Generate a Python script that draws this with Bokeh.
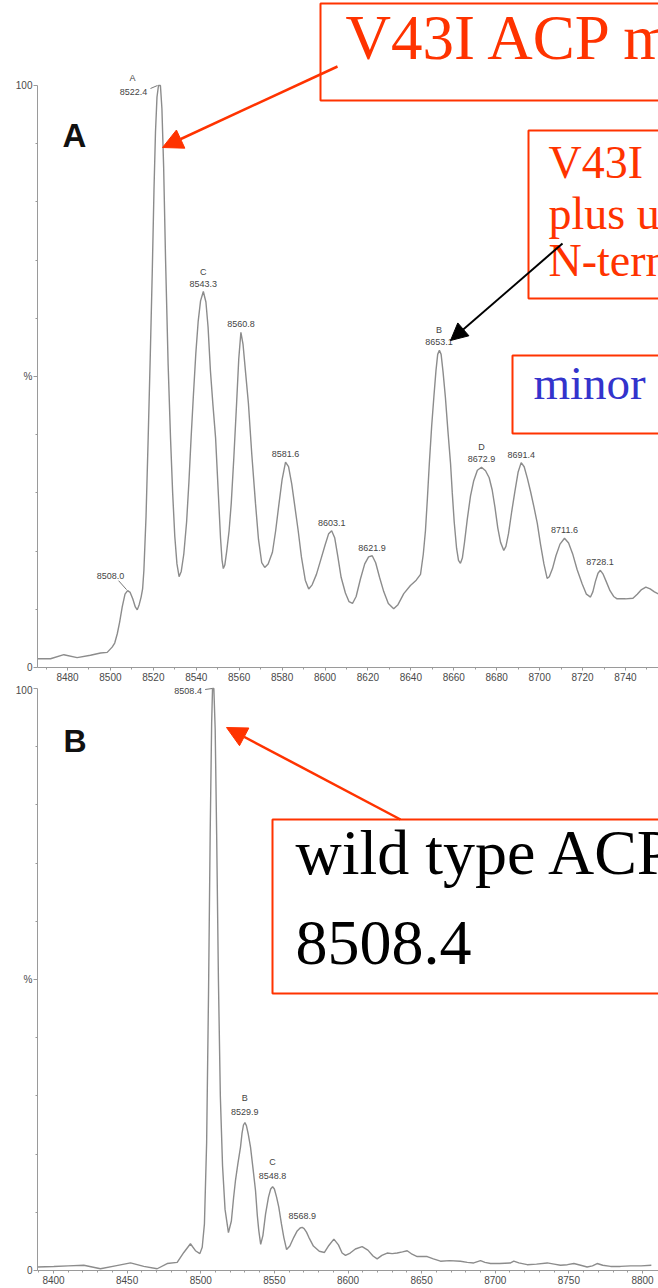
from bokeh.plotting import figure
from bokeh.layouts import column
from bokeh.models import (ColumnDataSource, FixedTicker, BoxAnnotation, Label,
                          Arrow, NormalHead, Range1d)
from bokeh.core.properties import value
from bokeh.embed import file_html
from bokeh.resources import INLINE

# ---------------- data ----------------
# Panel A : V43I ACP spectrum (m/z, % intensity)
a_mz = [8466.0, 8472.1, 8478.3, 8484.5, 8490.7, 8495.4, 8498.5, 8500.8, 8502.0, 8503.2,
        8504.3, 8505.5, 8506.8, 8508.0, 8509.2, 8510.4, 8511.6, 8512.5, 8513.4, 8514.3,
        8515.0, 8515.6, 8516.6, 8517.6, 8518.6, 8519.5, 8520.3, 8521.0, 8521.7, 8522.4,
        8523.3, 8524.0, 8524.8, 8525.7, 8526.9, 8528.0, 8529.0, 8530.0, 8531.0, 8532.0,
        8533.0, 8534.2, 8535.5, 8536.6, 8537.6, 8538.7, 8539.8, 8540.9, 8542.0, 8543.3,
        8544.5, 8545.5, 8546.6, 8547.8, 8549.0, 8550.2, 8551.3, 8552.0, 8552.6, 8553.3,
        8554.2, 8555.3, 8556.3, 8557.5, 8558.8, 8559.8, 8560.8, 8561.8, 8562.9, 8564.3,
        8565.9, 8567.6, 8569.0, 8570.5, 8571.9, 8573.5, 8575.5, 8577.0, 8578.5, 8580.0,
        8581.6, 8583.0, 8584.5, 8586.0, 8587.5, 8589.0, 8590.8, 8592.4, 8594.0, 8596.0,
        8598.0, 8600.0, 8601.7, 8603.1, 8604.5, 8606.0, 8607.5, 8609.5, 8611.2, 8612.8,
        8614.5, 8616.5, 8618.5, 8620.3, 8622.0, 8623.6, 8625.4, 8627.4, 8629.5, 8632.0,
        8634.0, 8636.7, 8639.8, 8642.5, 8644.5, 8645.8, 8646.8, 8647.7, 8648.6, 8649.7,
        8650.7, 8651.7, 8652.5, 8653.3, 8654.1, 8655.0, 8656.1, 8657.3, 8658.5, 8659.3,
        8660.2, 8661.3, 8662.2, 8663.1, 8664.0, 8665.0, 8666.3, 8667.8, 8669.3, 8671.0,
        8672.9, 8674.8, 8676.5, 8677.9, 8679.2, 8680.5, 8681.8, 8683.3, 8684.3, 8685.5,
        8687.0, 8688.5, 8690.0, 8691.4, 8692.8, 8694.3, 8695.8, 8697.4, 8698.9, 8700.4,
        8702.0, 8703.5, 8704.5, 8706.0, 8707.6, 8709.5, 8711.6, 8713.5, 8715.5, 8717.5,
        8719.8, 8721.8, 8723.7, 8724.8, 8726.0, 8727.2, 8728.3, 8729.5, 8731.0, 8732.8,
        8734.5, 8736.1, 8740.0, 8743.5, 8745.5, 8747.5, 8749.5, 8751.5, 8753.5, 8755.5]
a_int = [1.5, 1.5, 2.2, 1.7, 2.1, 2.5, 2.6, 3.5, 4.2, 5.8,
         7.8, 10.4, 12.6, 13.2, 12.9, 11.8, 10.4, 9.9, 10.8, 12.1,
         13.5, 16.7, 26.0, 39.5, 54.0, 68.0, 82.0, 92.0, 98.0, 100.0,
         100.0, 96.0, 86.0, 70.0, 52.0, 39.5, 30.0, 22.5, 17.8, 15.6,
         16.5, 19.5, 25.0, 32.0, 39.5, 47.0, 54.0, 59.5, 63.0, 64.6,
         62.8, 58.5, 51.0, 45.0, 39.5, 30.5, 22.3, 18.5, 17.0, 17.6,
         20.0, 23.5, 28.2, 36.0, 45.4, 53.0, 57.6, 55.5, 51.0, 45.4,
         36.5, 28.2, 22.0, 18.0, 17.2, 17.8, 19.8, 23.5, 28.0, 32.3,
         35.3, 34.5, 31.5, 27.5, 23.5, 19.0, 15.0, 13.5, 14.2, 16.0,
         18.5, 21.0, 23.0, 23.5, 22.3, 19.0, 15.5, 12.8, 11.3, 11.0,
         12.2, 15.2, 17.8, 19.0, 19.2, 18.0, 15.5, 13.0, 11.0, 10.1,
         10.8, 12.7, 14.1, 15.0, 16.0, 19.5, 23.5, 29.0, 35.0, 41.5,
         46.4, 51.0, 53.8, 54.5, 53.8, 50.8, 46.4, 40.5, 35.0, 30.0,
         25.0, 20.5, 18.4, 17.9, 18.8, 21.5, 25.5, 29.5, 32.1, 33.9,
         34.4, 33.8, 32.6, 30.5, 27.5, 24.0, 21.5, 20.1, 20.8, 23.0,
         26.8, 30.3, 33.6, 35.2, 34.5, 32.5, 30.2, 27.5, 24.8, 21.2,
         17.8, 15.3, 15.6, 17.0, 19.2, 21.2, 22.2, 21.4, 19.4, 16.8,
         14.4, 12.6, 12.1, 13.0, 14.8, 16.2, 16.7, 16.1, 14.8, 13.2,
         12.2, 11.8, 11.8, 11.9, 12.6, 13.4, 13.8, 13.5, 13.0, 12.6]
a_peak_mz = [8508.0, 8522.4, 8543.3, 8560.8, 8581.6, 8603.1, 8621.9, 8653.1, 8672.9,
             8691.4, 8711.6, 8728.1]
a_peak_int = [13.2, 100.0, 64.6, 57.6, 35.3, 23.5, 19.2, 54.5, 34.4, 35.2, 22.2, 16.7]
a_peak_text = ["8508.0", "8522.4", "8543.3", "8560.8", "8581.6", "8603.1", "8621.9",
               "8653.1", "8672.9", "8691.4", "8711.6", "8728.1"]
a_peak_letter = ["", "A", "C", "", "", "", "", "B", "D", "", "", ""]
a_xticks = [8480, 8500, 8520, 8540, 8560, 8580, 8600, 8620, 8640, 8660, 8680, 8700, 8720, 8740]

# Panel B : wild type ACP spectrum (m/z, % intensity)
b_mz = [8389.0, 8400.2, 8410.0, 8420.6, 8431.9, 8442.0, 8452.3, 8461.3, 8470.4, 8477.2,
        8484.0, 8488.5, 8493.0, 8496.4, 8499.4, 8501.0, 8502.5, 8504.0, 8505.3, 8506.4,
        8507.4, 8508.0, 8508.9, 8509.8, 8510.8, 8512.0, 8513.3, 8514.8, 8516.5, 8518.8,
        8520.8, 8522.3, 8523.6, 8525.3, 8527.0, 8528.0, 8529.0, 8530.0, 8531.0, 8532.2,
        8533.8, 8535.5, 8537.2, 8538.4, 8539.4, 8540.7, 8542.2, 8544.0, 8546.0, 8547.5,
        8548.8, 8550.0, 8551.5, 8553.0, 8554.8, 8556.4, 8558.3, 8560.5, 8563.2, 8565.5,
        8567.5, 8568.9, 8570.2, 8571.8, 8573.4, 8576.5, 8580.5, 8584.0, 8587.0, 8590.4,
        8593.5, 8596.0, 8598.3, 8601.5, 8605.0, 8609.6, 8613.5, 8617.0, 8619.8, 8623.0,
        8626.6, 8630.0, 8633.4, 8637.0, 8640.2, 8643.5, 8647.0, 8653.8, 8658.0, 8662.8,
        8669.0, 8676.4, 8681.0, 8685.4, 8690.0, 8693.0, 8696.8, 8703.0, 8710.4, 8712.6,
        8716.0, 8721.7, 8728.0, 8735.3, 8740.0, 8744.3, 8749.0, 8753.4, 8758.0, 8762.4,
        8766.0, 8769.2, 8773.0, 8778.3, 8785.0, 8792.0, 8799.0, 8806.0]
b_int = [0.6, 0.7, 0.8, 0.9, 0.3, 0.8, 1.3, 0.7, 0.3, 1.2,
         1.4, 3.1, 4.6, 3.4, 2.9, 4.0, 8.0, 22.0, 48.0, 75.0,
         94.0, 100.0, 100.0, 93.0, 75.0, 50.0, 30.0, 18.0, 10.5, 6.5,
         8.5, 12.5, 15.5, 18.5, 21.2, 23.5, 25.0, 25.4, 24.9, 23.5,
         21.2, 17.5, 13.7, 9.5, 6.9, 4.5, 6.0, 9.7, 12.6, 14.0,
         14.4, 14.0, 12.6, 10.9, 8.0, 5.7, 3.6, 4.2, 5.7, 6.8,
         7.3, 7.4, 7.2, 6.6, 5.7, 4.2, 3.3, 3.1, 4.3, 5.4,
         4.4, 3.0, 2.6, 3.0, 3.7, 4.1, 3.5, 2.5, 2.0, 2.6,
         3.0, 2.9, 3.0, 3.2, 3.4, 2.8, 2.4, 2.4, 2.0, 1.6,
         1.7, 1.6, 1.4, 1.3, 1.7, 1.4, 1.2, 1.2, 1.3, 1.6,
         1.3, 1.0, 1.1, 1.3, 1.1, 0.9, 1.0, 1.2, 0.9, 0.6,
         0.8, 1.2, 0.9, 0.7, 0.7, 0.8, 0.8, 0.9]
b_peak_mz = [8508.4, 8529.9, 8548.8, 8568.9]
b_peak_int = [100.0, 25.4, 14.4, 7.4]
b_peak_text = ["8508.4", "8529.9", "8548.8", "8568.9"]
b_peak_letter = ["", "B", "C", ""]
b_xticks = [8400, 8450, 8500, 8550, 8600, 8650, 8700, 8750, 8800]

y_ticks = [0, 50, 100]
y_tick_labels = ["0", "%", "100"]

title_a = "V43I ACP m"
note_a_lines = ["V43I", "plus u", "N-term"]
note_minor = "minor"
note_b_lines = ["wild type ACP", "8508.4"]

# ---------------- styling ----------------
RED = "#FF3300"
BLUE = "#3333CC"
SERIF = "Liberation Serif"
SANS = "Liberation Sans"
LINE_GRAY = "#8c8c8c"
AXIS_GRAY = "#9a9a9a"
W = 658
HA = 684
HB = 604

# picture pixel -> data helpers for each panel
def ax(X):
    return 8480 + (X - 67) / 2.146

def ay(Y):
    return (667 - Y) / 5.82

def bx(X):
    return 8400 + (X - 53) / 1.4725

def by(Y):
    return (1270 - Y) / 5.82


def style_axes(p, xticks, xminor):
    p.outline_line_color = None
    p.grid.grid_line_color = None
    for axis in (p.xaxis[0], p.yaxis[0]):
        axis.axis_line_color = AXIS_GRAY
        axis.major_tick_line_color = AXIS_GRAY
        axis.minor_tick_line_color = AXIS_GRAY
        axis.major_label_text_font = SANS
        axis.major_label_text_font_size = "10px"
        axis.major_label_text_color = "#4a4a4a"
        axis.major_tick_in = 0
        axis.minor_tick_in = 0
        axis.minor_tick_out = 2
    xa = p.xaxis[0]
    xa.ticker = FixedTicker(ticks=xticks, minor_ticks=xminor)
    xa.major_tick_out = 3
    xa.major_label_standoff = 2
    ya = p.yaxis[0]
    ya.ticker = FixedTicker(ticks=y_ticks, minor_ticks=[10, 20, 30, 40, 60, 70, 80, 90])
    ya.major_label_overrides = {t: s for t, s in zip(y_ticks, y_tick_labels)}
    ya.bounds = (0, 100)
    ya.major_tick_out = 4
    ya.major_label_standoff = 1


lbl_font = dict(text_font=value(SANS), text_font_size=value("9px"), text_color="#444444",
                text_align="center", text_baseline="middle")


def peak_labels(p, mz, inten, txt, let, skip, num_off, let_off):
    idx = [i for i in range(len(mz)) if i not in skip]
    src = ColumnDataSource(dict(x=[mz[i] for i in idx], y=[inten[i] for i in idx],
                                t=[txt[i] for i in idx], l=[let[i] for i in idx]))
    p.text(x="x", y="y", text="t", source=src, y_offset=num_off, **lbl_font)
    p.text(x="x", y="y", text="l", source=src, y_offset=let_off, **lbl_font)


def box(p, l, r, t, b):
    p.add_layout(BoxAnnotation(left=l, right=r, top=t, bottom=b,
                               fill_color="white", fill_alpha=1.0,
                               line_color=RED, line_alpha=1.0, line_width=2))


# ================= Panel A =================
pa = figure(width=W, height=HA, x_range=Range1d(ax(37), ax(658)), y_range=Range1d(0, ay(0)),
            output_backend="svg", toolbar_location=None,
            min_border_left=37, min_border_right=0, min_border_top=0, min_border_bottom=HA - 667)
style_axes(pa, a_xticks, list(range(8470, 8760, 10)))
pa.line(a_mz, a_int, line_color=LINE_GRAY, line_width=1.4)
peak_labels(pa, a_peak_mz, a_peak_int, a_peak_text, a_peak_letter, skip=[0, 1],
            num_off=-8, let_off=-20)

# 8508.0 : label up-left with leader
pa.text(x=[a_peak_mz[0]], y=[a_peak_int[0]], text=[a_peak_text[0]],
        x_offset=-17, y_offset=-15, **lbl_font)
pa.segment(x0=[a_peak_mz[0] - 9 / 2.146], y0=[a_peak_int[0] + 10 / 5.82],
           x1=[a_peak_mz[0] - 1 / 2.146], y1=[a_peak_int[0] + 1 / 5.82],
           line_color="#777777", line_width=1)
# 8522.4 : label left of top with hook
pa.text(x=[a_peak_mz[1]], y=[a_peak_int[1]], text=[a_peak_text[1]],
        x_offset=-25, y_offset=6, **lbl_font)
pa.text(x=[a_peak_mz[1]], y=[a_peak_int[1]], text=[a_peak_letter[1]],
        x_offset=-26, y_offset=-8, **lbl_font)
pa.segment(x0=[a_peak_mz[1] - 8 / 2.146], y0=[a_peak_int[1] - 3 / 5.82],
           x1=[a_peak_mz[1] - 1 / 2.146], y1=[a_peak_int[1]],
           line_color="#777777", line_width=1)

pa.add_layout(Label(x=ax(62), y=ay(153), text="A", text_font=SANS, text_font_size="33px",
                    text_font_style="bold", text_color="#111111"))

# top box
box(pa, ax(320), ax(760), ay(3), ay(100))
pa.add_layout(Label(x=ax(345), y=ay(72), text=title_a, text_font=SERIF,
                    text_font_size="63px", text_color=RED))
pa.add_layout(Arrow(end=NormalHead(size=20, fill_color=RED, line_color=RED),
                    x_start=ax(337), y_start=ay(66), x_end=ax(162), y_end=ay(147),
                    line_color=RED, line_width=2.5))

# second box
box(pa, ax(528), ax(760), ay(130), ay(298))
for line, base in zip(note_a_lines, [187, 238, 285]):
    pa.add_layout(Label(x=ax(548), y=ay(base), text=line, text_font=SERIF,
                        text_font_size="46px", text_color=RED))
pa.add_layout(Arrow(end=NormalHead(size=17, fill_color="black", line_color="black"),
                    x_start=ax(562), y_start=ay(243), x_end=ax(450), y_end=ay(340),
                    line_color="black", line_width=2))

# minor box
box(pa, ax(512), ax(760), ay(355), ay(433))
pa.add_layout(Label(x=ax(533), y=ay(408), text=note_minor, text_font=SERIF,
                    text_font_size="47px", text_color=BLUE))

# ================= Panel B =================
pb = figure(width=W, height=HB, x_range=Range1d(bx(37), bx(658)), y_range=Range1d(0, by(684)),
            output_backend="svg", toolbar_location=None,
            min_border_left=37, min_border_right=0, min_border_top=0,
            min_border_bottom=684 + HB - 1270)
style_axes(pb, b_xticks, list(range(8390, 8810, 10)))
pb.line(b_mz, b_int, line_color=LINE_GRAY, line_width=1.4)
peak_labels(pb, b_peak_mz, b_peak_int, b_peak_text, b_peak_letter, skip=[0],
            num_off=-11, let_off=-25)
pb.text(x=[b_peak_mz[0]], y=[b_peak_int[0]], text=[b_peak_text[0]],
        x_offset=-25, y_offset=2, **lbl_font)
pb.segment(x0=[b_peak_mz[0] - 8 / 1.4725], y0=[b_peak_int[0] - 1 / 5.82],
           x1=[b_peak_mz[0] - 1 / 1.4725], y1=[b_peak_int[0]],
           line_color="#777777", line_width=1)

pb.add_layout(Label(x=bx(63), y=by(758), text="B", text_font=SANS, text_font_size="32px",
                    text_font_style="bold", text_color="#111111"))

box(pb, bx(272), bx(760), by(819), by(993))
for line, base in zip(note_b_lines, [887, 963]):
    pb.add_layout(Label(x=bx(295), y=by(base), text=line, text_font=SERIF,
                        text_font_size="64px", text_color="black"))
pb.add_layout(Arrow(end=NormalHead(size=20, fill_color=RED, line_color=RED),
                    x_start=bx(400), y_start=by(819), x_end=bx(226), y_end=by(727),
                    line_color=RED, line_width=2.5))

layout = column(pa, pb)
open("out.html", "w").write(file_html(layout, INLINE))
